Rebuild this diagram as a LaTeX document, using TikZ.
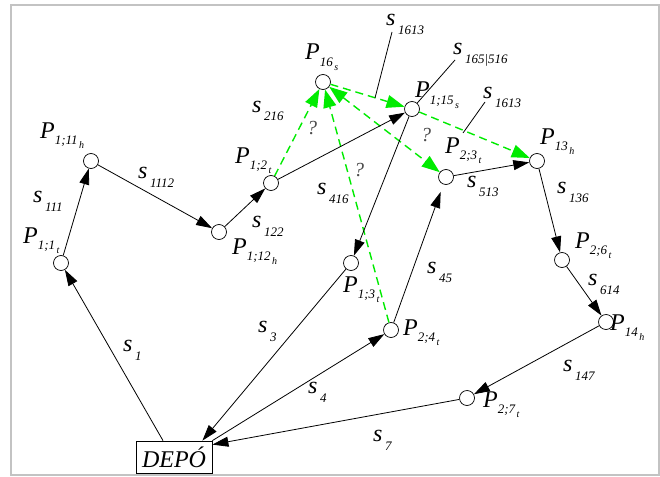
\documentclass[tikz,border=0pt]{standalone}
\usepackage{fontspec}
\setmainfont{Liberation Serif}
\usetikzlibrary{arrows.meta}
\definecolor{grn}{RGB}{0,235,0}
\definecolor{framegray}{RGB}{195,195,195}
\newcommand\Pl[2]{\textit{P}\kern0pt\raisebox{-6.5pt}{\fontsize{13}{13}\selectfont\itshape #1\kern1.5pt\raisebox{-4pt}{\fontsize{10}{10}\selectfont\itshape #2}}}
\newcommand\Sl[1]{\textit{s}\kern2.5pt\raisebox{-9pt}{\fontsize{13}{13}\selectfont\itshape #1}}
\begin{document}
\begin{tikzpicture}[x=1pt,y=-1pt,
  pt/.style={circle,draw,line width=0.7pt,minimum size=15pt,inner sep=0pt},
  lbl/.style={anchor=base west,inner sep=0pt,font=\fontsize{24}{26}\selectfont},
  qm/.style={inner sep=0pt,text=black!70,font=\fontsize{20}{22}\selectfont\itshape},
  edge/.style={line width=0.8pt,-{Triangle[length=16pt,width=10pt]}},
  gedge/.style={grn,line width=1.4pt,dash pattern=on 8pt off 5pt,-{Triangle[length=18pt,width=13pt]}},
  leader/.style={line width=0.8pt}]
\useasboundingbox (0,0) rectangle (660,476);
\draw[framegray,line width=2pt] (11,5) rectangle (659,475);

% points
\node[pt] (p11t) at (61,263) {};
\node[pt] (p111h) at (91,161) {};
\node[pt] (p112h) at (219,232) {};
\node[pt] (p12t) at (271,183) {};
\node[pt] (p16) at (323,82) {};
\node[pt] (p115s) at (412,109) {};
\node[pt] (p23t) at (446,177) {};
\node[pt] (p13h) at (537,161) {};
\node[pt] (p26t) at (562,260) {};
\node[pt] (p14h) at (606,322) {};
\node[pt] (p27t) at (467,398) {};
\node[pt] (p24t) at (391,330) {};
\node[pt] (p13t) at (351,263) {};
\node[draw,line width=0.8pt,minimum width=76pt,minimum height=32pt,inner sep=0pt,
  font=\fontsize{24}{26}\selectfont\itshape] (depo) at (174,457) {DEPÓ};

% green dashed
\draw[gedge] (p12t) -- (p16);
\draw[gedge] (p24t) -- (p16);
\draw[gedge,{Triangle[length=18pt,width=13pt]}-{Triangle[length=18pt,width=13pt]}] (p16) -- (p23t);
\draw[gedge] (p16) -- (p115s);
\draw[gedge] (p115s) -- (p13h);

% black edges
\draw[edge] ([xshift=-11pt]depo.north) -- (p11t);
\draw[edge] (p11t) -- (p111h);
\draw[edge] (p111h) -- (p112h);
\draw[edge] (p112h) -- (p12t);
\draw[edge] (p12t) -- (p115s);
\draw[edge] (p115s) -- (p13t);
\draw[edge] (p13t) -- ([xshift=-10pt]depo.north east);
\draw[edge] (depo.north east) -- (p24t);
\draw[edge,shorten >=8pt] (p24t) -- (p23t);
\draw[edge] (p23t) -- (p13h);
\draw[edge] (p13h) -- (p26t);
\draw[edge] (p26t) -- (p14h);
\draw[edge] (p14h) -- (p27t);
\draw[edge] (p27t) -- ([yshift=-4pt]depo.north east);

% leader lines
\coordinate (la1) at (392,32);
\coordinate (la2) at (375,98);
\coordinate (lb1) at (455,60);
\coordinate (lc1) at (485,102);
\coordinate (lc2) at (463,133);
\draw[leader] (la1) -- (la2);
\draw[leader] (lb1) -- (p115s);
\draw[leader] (lc1) -- (lc2);

% point labels
\node[lbl] (tp111h) at (40,138) {\Pl{1;11}{h}};
\node[lbl] (tp11t) at (23,243) {\Pl{1;1}{t}};
\node[lbl] (tp112h) at (232,254) {\Pl{1;12}{h}};
\node[lbl] (tp12t) at (235,163) {\Pl{1;2}{t}};
\node[lbl] (tp16) at (305,60) {\Pl{16}{s}};
\node[lbl] (tp115s) at (415,98) {\Pl{1;15}{s}};
\node[lbl] (tp23t) at (445,153) {\Pl{2;3}{t}};
\node[lbl] (tp13h) at (540,144) {\Pl{13}{h}};
\node[lbl] (tp26t) at (575,248) {\Pl{2;6}{t}};
\node[lbl] (tp14h) at (610,330) {\Pl{14}{h}};
\node[lbl] (tp27t) at (483,407) {\Pl{2;7}{t}};
\node[lbl] (tp24t) at (403,335) {\Pl{2;4}{t}};
\node[lbl] (tp13t) at (343,292) {\Pl{1;3}{t}};

% edge labels
\node[lbl] (s1) at (123,351) {\Sl{1}};
\node[lbl] (s3) at (258,332) {\Sl{3}};
\node[lbl] (s4) at (308,393) {\Sl{4}};
\node[lbl] (s7) at (373,441) {\Sl{7}};
\node[lbl] (s147) at (563,371) {\Sl{147}};
\node[lbl] (s614) at (588,285) {\Sl{614}};
\node[lbl] (s136) at (557,193) {\Sl{136}};
\node[lbl] (s513) at (467,187) {\Sl{513}};
\node[lbl] (s45) at (427,273) {\Sl{45}};
\node[lbl] (s416) at (317,194) {\Sl{416}};
\node[lbl] (s216) at (252,112) {\Sl{216}};
\node[lbl] (s122) at (252,227) {\Sl{122}};
\node[lbl] (s111) at (33,202) {\Sl{111}};
\node[lbl] (s1112) at (138,178) {\Sl{1112}};
\node[lbl] (s1613a) at (386,26) {\Sl{1613}};
\node[lbl] (s165) at (453,55) {\Sl{165|516}};
\node[lbl] (s1613b) at (483,99) {\Sl{1613}};

% question marks
\node[qm] (q1) at (312,128) {?};
\node[qm] (q2) at (359,170) {?};
\node[qm] (q3) at (426,135) {?};
\end{tikzpicture}
\end{document}
